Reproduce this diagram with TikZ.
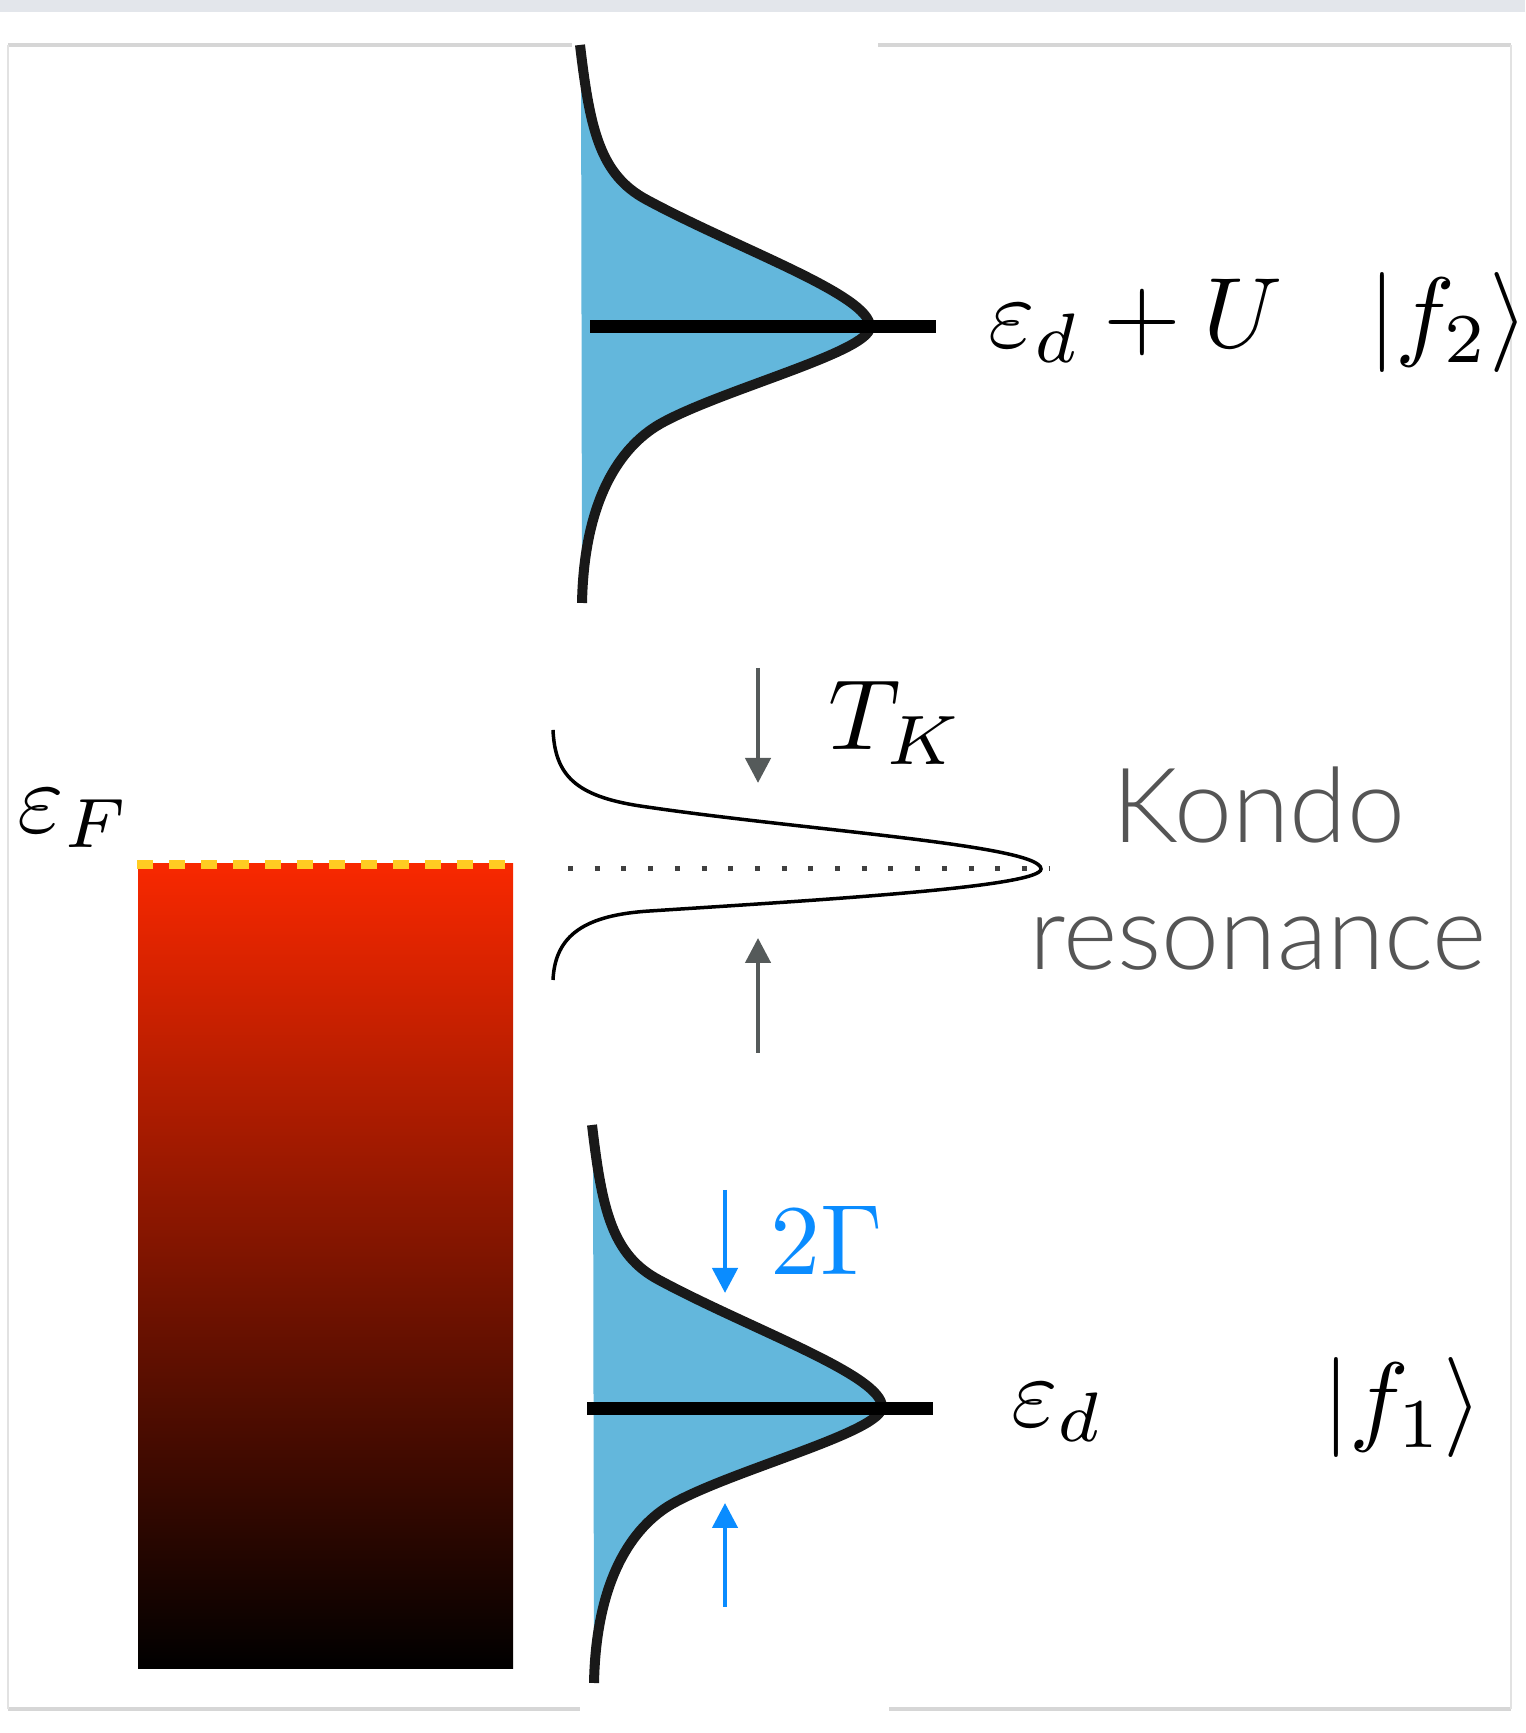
\documentclass[tikz,border=0pt]{standalone}
\usepackage{fontspec}
\usepackage{tikz}
\usetikzlibrary{arrows.meta}
\newfontfamily\kondofont{Lato Light}
\definecolor{peakblue}{RGB}{99,183,220}
\definecolor{peakline}{RGB}{25,25,25}
\definecolor{arrowgray}{RGB}{85,90,90}
\definecolor{gammablue}{RGB}{10,140,255}
\definecolor{fermired}{RGB}{248,40,0}
\definecolor{fermigold}{RGB}{255,204,34}
\definecolor{textgray}{RGB}{85,85,85}
\definecolor{framegray}{RGB}{214,214,214}
\definecolor{bandgray}{RGB}{227,230,235}

\begin{document}
\begin{tikzpicture}[x=1pt,y=1pt,scale=.1,
        peak/.style={line width=1pt,draw=peakline},
        level/.style={line width=1.3pt},
        grayarr/.style={arrowgray,line width=.45pt,-{Triangle[length=2.5pt,width=2.5pt]}},
        bluearr/.style={gammablue,line width=.45pt,-{Triangle[length=2.5pt,width=2.5pt]}},
        lab/.style={anchor=base west,inner sep=0pt,font=\fontsize{9.6}{11.5}\selectfont},
        kondotext/.style={anchor=base,inner sep=0pt,textgray,font=\kondofont\fontsize{10.4}{12.5}\selectfont}]
        \useasboundingbox (0,0) rectangle (1525,1733);
        \fill[bandgray] (0,1721) rectangle (1525,1733);
        \draw[framegray,line width=.4pt] (8,1688) -- (572,1688);
        \draw[framegray,line width=.4pt] (878,1688) -- (1511,1688);
        \draw[framegray,line width=.4pt] (8,24) -- (580,24);
        \draw[framegray,line width=.4pt] (889,24) -- (1511,24);
        \draw[framegray!70,line width=.2pt] (8,24) -- (8,1688);
        \draw[framegray!70,line width=.2pt] (1511,24) -- (1511,1688);
        % conduction band
        \shade[top color=fermired,bottom color=black] (138,64) rectangle (513,869);
        \draw[fermigold,line width=.9pt,dash pattern=on 1.6pt off 1.6pt] (137,868) -- (505,868);
        % upper level
        \fill[peakblue] (581,1688) .. controls (590,1603) and (600,1558) .. (647,1533) .. controls (740,1483) and (870,1438) .. (870,1406) .. controls (870,1381) and (720,1343) .. (660,1309) .. controls (620,1286) and (584,1233) .. (582,1130) -- cycle;
        \draw[peak] (580,1688) .. controls (590,1603) and (600,1558) .. (647,1533) .. controls (740,1483) and (870,1438) .. (870,1406) .. controls (870,1381) and (720,1343) .. (660,1309) .. controls (620,1286) and (584,1233) .. (582,1130);
        \draw[level] (590,1406) -- (936,1406);
        % lower level
        \fill[peakblue] (593,608) .. controls (602,523) and (612,478) .. (659,453) .. controls (752,403) and (882,358) .. (882,326) .. controls (882,301) and (732,263) .. (672,229) .. controls (632,206) and (596,153) .. (594,50) -- cycle;
        \draw[peak] (592,608) .. controls (602,523) and (612,478) .. (659,453) .. controls (752,403) and (882,358) .. (882,326) .. controls (882,301) and (732,263) .. (672,229) .. controls (632,206) and (596,153) .. (594,50);
        \draw[level] (587,324) -- (933,324);
        % Kondo peak
        \draw[line width=.35pt] (553,1003) .. controls (555,958) and (575,937) .. (640,927) .. controls (800,903) and (1041,888) .. (1041,864) .. controls (1041,846) and (820,833) .. (650,822) .. controls (585,818) and (555,798) .. (553,753);
        \draw[black!75,line width=.5pt,dash pattern=on .5pt off 2.17pt] (568,864) -- (1050,864);
        \draw[grayarr] (758,1065) -- (758,950);
        \draw[grayarr] (758,680) -- (758,795);
        \draw[bluearr] (725,543) -- (725,440);
        \draw[bluearr] (725,126) -- (725,230);
        \node[lab] (epsF) at (16,900) {$\varepsilon_F$};
        \node[lab] (edU) at (986,1385) {$\varepsilon_d+U$};
        \node[lab] (ftwo) at (1366,1385) {$|f_2\rangle$};
        \node[lab] (ed) at (1009,306) {$\varepsilon_d$};
        \node[lab] (fone) at (1320,300) {$|f_1\rangle$};
        \node[lab] (tk) at (826,983) {$T_K$};
        \node[lab,gammablue] (twogamma) at (768,458) {$2\Gamma$};
        \node[kondotext] (kondo) at (1259,890) {Kondo};
        \node[kondotext] (reson) at (1258,763) {resonance};
    \end{tikzpicture}
\end{document}
